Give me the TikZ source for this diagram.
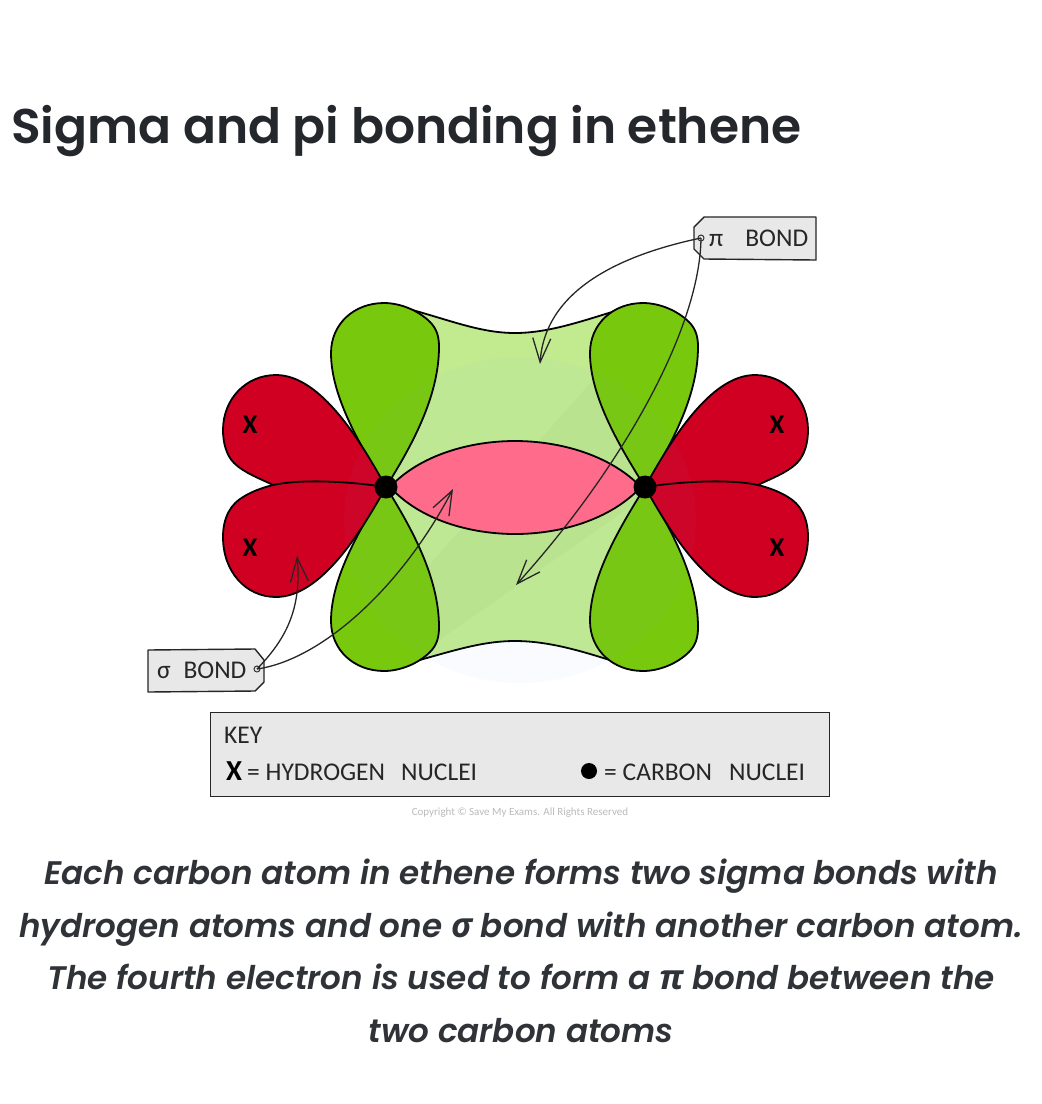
\documentclass[tikz,border=0pt]{standalone}
\usepackage{fontspec}
\setmainfont{Poppins SemiBold}
\newfontfamily\semifont[ItalicFont={Poppins SemiBold Italic}]{Poppins SemiBold}
\newfontfamily\greekcap[Scale=1.05,BoldItalicFont={Open Sans Bold Italic}]{Open Sans}
\newfontfamily\labelfont{Carlito}
\usetikzlibrary{arrows.meta}
\definecolor{lobegreen}{HTML}{78C90D}
\definecolor{lobered}{HTML}{D00023}
\definecolor{bondgreen}{HTML}{C2EB90}
\definecolor{bondband}{HTML}{BDE68C}
\definecolor{bondpink}{HTML}{FF6B8A}
\definecolor{tagfill}{HTML}{E8E8E8}
\definecolor{inktext}{HTML}{24272C}
\definecolor{capgrey}{HTML}{BBBBBB}
\definecolor{sheen}{HTML}{60A8E6}
\tikzset{
  x=1pt,y=-1pt,
  ink/.style={draw=black,line width=1.8pt,line join=round},
  greenlobe/.style={ink,fill=lobegreen},
  redlobe/.style={ink,fill=lobered},
  nucleus/.style={circle,fill=black,inner sep=0pt,minimum size=23pt},
  keydot/.style={circle,fill=black,inner sep=0pt,minimum size=16pt},
  tagshape/.style={draw=black!85,line width=1.4pt,fill=tagfill,line join=round},
  hole/.style={circle,draw=black!80,line width=1pt,inner sep=0pt,minimum size=6pt},
  leader/.style={draw=black!85,line width=1.3pt,-{Straight Barb[length=24pt,width=18pt,line width=1.3pt]}},
  handlabel/.style={font=\labelfont\fontsize{25.5}{26}\selectfont,text=black!85,inner sep=0pt},
  crossmark/.style={font=\labelfont\bfseries\fontsize{27}{28}\selectfont,text=black,inner sep=0pt},
  keycross/.style={font=\labelfont\bfseries\fontsize{29}{29}\selectfont,text=black,inner sep=0pt},
  titletext/.style={font=\semifont\fontsize{48.7}{54}\selectfont,text=inktext,inner sep=0pt,anchor=base west},
  captext/.style={font=\semifont\itshape\fontsize{32.6}{52.5}\selectfont,text=inktext!95,inner sep=0pt,align=center,anchor=north},
}
\newcommand{\greenlobepath}{(0,0) .. controls (-25,-40) and (-55,-90) .. (-55,-134) .. controls (-55,-163) and (-32,-184) .. (-2,-184) .. controls (15,-184) and (33,-176) .. (44,-165) .. controls (51,-158) and (53,-150) .. (53,-140) .. controls (53,-90) and (25,-40) .. (0,0) -- cycle}
\newcommand{\redupperpath}{(0,0) .. controls (-25,-45) and (-65,-112) .. (-110,-112) .. controls (-140,-112) and (-163,-88) .. (-163,-57) .. controls (-163,-45) and (-160,-32) .. (-152,-24) .. controls (-142,-14) and (-125,-8) .. (-113,-2) -- cycle}
\newcommand{\redlowerpath}{(0,0) .. controls (-40,-6) and (-85,-8) .. (-113,-2) .. controls (-125,1) and (-135,5) .. (-143,10) .. controls (-155,17) and (-163,30) .. (-163,50) .. controls (-163,85) and (-140,110) .. (-110,110) .. controls (-65,110) and (-25,45) .. (0,0) -- cycle}
\begin{document}
\begin{tikzpicture}
\useasboundingbox (0,0) rectangle (1042,1104);
\fill[white] (0,0) rectangle (1042,1104);

\node[titletext] (title) at (11,143) {Sigma and pi bonding in ethene};

% pi bond
\fill[bondgreen] (405,308) .. controls (450,320) and (480,333) .. (515,333) .. controls (550,333) and (585,320) .. (625,308)
  -- (640,340) -- (645,487) -- (640,640) -- (622,664) .. controls (585,652) and (550,641) .. (515,641) .. controls (480,641) and (450,652) .. (405,664)
  -- (395,640) -- (386,487) -- (395,340) -- cycle;
\fill[bondband] (425,570) -- (600,372) -- (640,340) -- (640,500) -- (425,650) -- cycle;
\draw[ink] (405,308) .. controls (450,320) and (480,333) .. (515,333) .. controls (550,333) and (585,320) .. (625,308);
\draw[ink] (405,664) .. controls (450,652) and (480,641) .. (515,641) .. controls (550,641) and (585,652) .. (622,664);

% green p lobes
\begin{scope}[shift={(386,487)}]
  \path[greenlobe] \greenlobepath;
  \begin{scope}[yscale=-1]\path[greenlobe] \greenlobepath;\end{scope}
\end{scope}
\begin{scope}[shift={(645,487)}]
  \path[greenlobe] \greenlobepath;
  \begin{scope}[yscale=-1]\path[greenlobe] \greenlobepath;\end{scope}
\end{scope}

% red C-H lobes
\begin{scope}[shift={(386,487)}]
  \path[redlobe] \redupperpath;
  \path[redlobe] \redlowerpath;
\end{scope}
\begin{scope}[shift={(645,487)},xscale=-1]
  \path[redlobe] \redupperpath;
  \path[redlobe] \redlowerpath;
\end{scope}

% faint sheen
\fill[sheen,opacity=.035] (520,520) ellipse [x radius=176,y radius=163];

% sigma bond between carbons
\path[ink,fill=bondpink] (390,487) .. controls (420,455) and (470,441) .. (515,441) .. controls (560,441) and (610,455) .. (641,487)
  .. controls (610,520) and (560,534) .. (515,534) .. controls (470,534) and (420,520) .. (390,487) -- cycle;

\node[nucleus] (c1) at (386,487) {};
\node[nucleus] (c2) at (645,487) {};

\node[crossmark] (h1) at (250,425) {X};
\node[crossmark] (h2) at (250,548) {X};
\node[crossmark] (h3) at (777,425) {X};
\node[crossmark] (h4) at (777,548) {X};

% tags
\path[tagshape] (148,650) -- (255,649) -- (264,660) -- (264,682) -- (255,691) -- (148,692) -- cycle;
\node[handlabel,anchor=west] (sigmalabel) at (157,670) {σ\,\,\,BOND};
\path[tagshape] (704,217) -- (816,217) -- (816,260) -- (704,259) -- (694,249) -- (694,227) -- cycle;
\node[handlabel,anchor=west] (pilabel) at (709,238) {π\hspace{22pt}BOND};

\node[hole] (sigmahole) at (257,669) {};
\node[hole] (pihole) at (701,238) {};
\coordinate (sigmaend1) at (297,556);
\coordinate (sigmaend2) at (453,489);
\coordinate (piend1) at (540,364);
\coordinate (piend2) at (516,585);

\draw[leader] (sigmahole.center) .. controls (285,640) and (302,610) .. (sigmaend1);
\draw[leader] (sigmahole.center) .. controls (320,660) and (400,590) .. (sigmaend2);
\draw[leader] (pihole.center) .. controls (620,255) and (545,290) .. (piend1);
\draw[leader] (pihole.center) .. controls (700,330) and (620,470) .. (piend2);

% key
\node[draw=black!85,line width=1.4pt,fill=tagfill,minimum width=619pt,minimum height=84pt,inner sep=0pt,anchor=north west] (keybox) at (210,712) {};
\node[handlabel,anchor=base west] (keyhead) at (224,743) {KEY};
\node[keycross,anchor=base west] (keyx) at (226,780) {X};
\node[handlabel,anchor=base west] (keyh) at (247,780) {= HYDROGEN\hspace{16pt}NUCLEI};
\node[keydot] (keyc) at (589,771) {};
\node[handlabel,anchor=base west] (keycarbon) at (604,780) {= CARBON\hspace{17pt}NUCLEI};

\node[font=\labelfont\fontsize{11}{11}\selectfont,text=capgrey,inner sep=0pt] (copy) at (520,813) {Copyright © Save My Exams. All Rights Reserved};

\node[captext] (caption) at (521,859) {Each carbon atom in ethene forms two sigma bonds with\\
hydrogen atoms and one {\greekcap\bfseries σ} bond with another carbon atom.\\
The fourth electron is used to form a {\greekcap\bfseries π} bond between the\\
two carbon atoms};
\end{tikzpicture}
\end{document}
